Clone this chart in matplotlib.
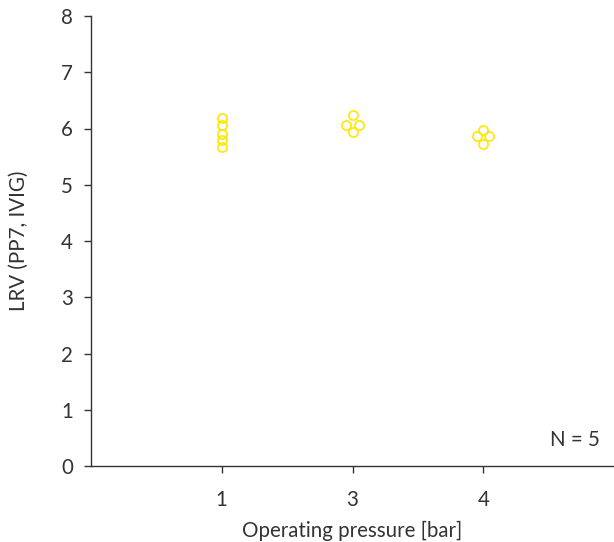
import matplotlib
matplotlib.use("Agg")
import matplotlib.pyplot as plt
import numpy as np

plt.rcParams['font.family'] = ['Lato', 'DejaVu Sans']

pressures = ["1", "3", "4"]
lrv_1bar = [6.18, 6.07, 5.91, 5.80, 5.67]
lrv_3bar = [6.24, 6.07, 6.07, 5.93]
lrv_4bar = [5.97, 5.87, 5.87, 5.72]
groups = [lrv_1bar, lrv_3bar, lrv_4bar]
n_label = "N = 5"
yticks = [0, 1, 2, 3, 4, 5, 6, 7, 8]

fig = plt.figure(figsize=(6.14, 5.42), dpi=100)
ax = fig.add_axes([91/614, 1-466/542, 523/614, 450/542])

dodge = 0.046
for i, vals in enumerate(groups):
    vals = np.asarray(vals)
    xs = np.full(len(vals), float(i))
    for v in np.unique(vals):
        idx = np.where(vals == v)[0]
        k = len(idx)
        if k > 1:
            offs = (np.arange(k) - (k-1)/2) * 2 * dodge
            xs[idx] = i + offs
    ax.plot(xs, vals, linestyle='none', marker='o', markersize=6.6,
            markerfacecolor='none', markeredgecolor='#FFE600', markeredgewidth=1.2)

ax.set_xlim(-1, 3)
ax.set_ylim(0, 8)
ax.set_xticks(range(len(pressures)))
ax.set_xticklabels(pressures)
ax.set_yticks(yticks)
for s in ['top', 'right']:
    ax.spines[s].set_visible(False)
for s in ['left', 'bottom']:
    ax.spines[s].set_color('#333333')
    ax.spines[s].set_linewidth(1.0)
fs = 14.8
tc = '#333333'
ax.tick_params(axis='both', direction='out', length=5, width=1.0, color='#333333',
               labelsize=fs, labelcolor=tc, pad=8)
ax.tick_params(axis='x', pad=12)
ax.set_xlabel("Operating pressure [bar]", fontsize=fs, color=tc, labelpad=8)
ax.set_ylabel("LRV (PP7, IVIG)", fontsize=fs, color=tc, labelpad=23)
ax.text(0.973, 0.058, n_label, transform=ax.transAxes, ha='right', va='center',
        fontsize=fs, color=tc)

fig.savefig("out.png", dpi=100)
